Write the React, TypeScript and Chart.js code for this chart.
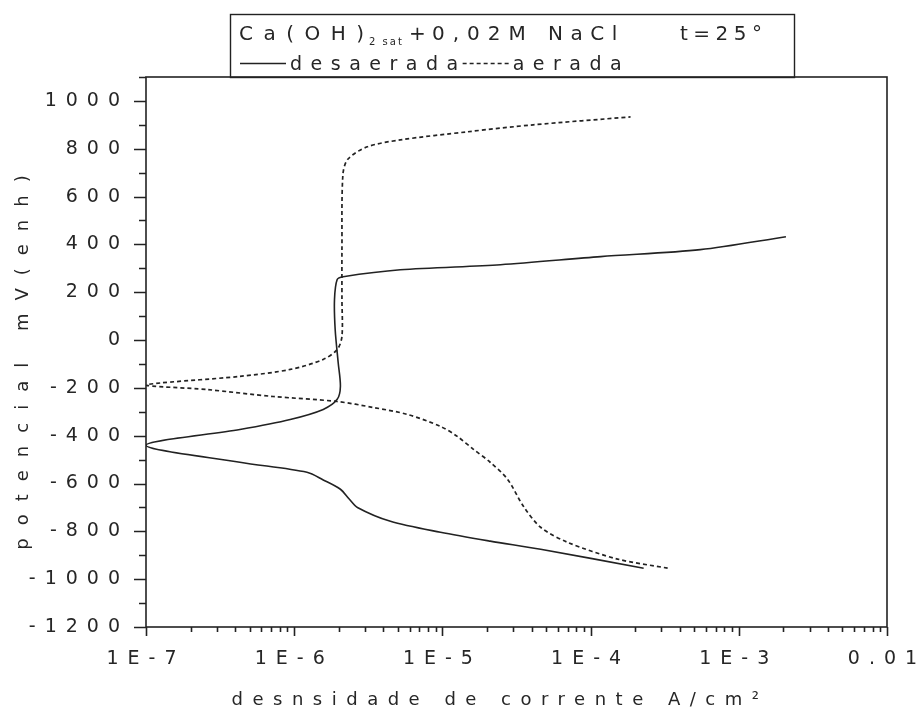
import React, { useEffect, useRef } from 'react';
import { Chart, registerables } from 'chart.js';

Chart.register(...registerables);

// ---- Data ----
// desaerada: solid curve, traced from the cathodic end, through the corrosion point, up the anodic branch
const desaeradaCurrent = [
  2.28e-4, 4.6e-5, 2.1e-5, 9.7e-6, 4.46e-6, 2.67e-6, 2.35e-6, 2.05e-6, 1.57e-6, 1.22e-6, 4.3e-7, 1e-7,
  4.3e-7, 9.4e-7, 1.57e-6, 1.95e-6, 2.05e-6, 1.98e-6, 1.89e-6, 1.87e-6, 1.95e-6, 2.14e-6,
  5.2e-6, 2.47e-5, 1.17e-4, 5.5e-4, 2.08e-3,
];
const desaeradaPotential = [
  -954, -875, -841, -804, -758, -700, -665, -624, -585, -553, -511, -440,
  -374, -332, -290, -248, -194, -94, 44, 169, 253, 265,
  294, 315, 349, 378, 432,
];

// aerada: dashed curve
const aeradaCurrent = [
  3.31e-4, 1.52e-4, 7.0e-5, 4.6e-5, 3.52e-5, 2.75e-5, 2.1e-5, 1.62e-5, 1.26e-5, 9.7e-6, 5.8e-6,
  3.42e-6, 1.95e-6, 7.2e-7, 2.58e-7, 1.0e-7, 4.3e-7, 9.4e-7, 1.57e-6, 1.95e-6, 2.1e-6,
  2.1e-6, 2.1e-6, 2.13e-6, 2.3e-6, 3.11e-6, 5.2e-6, 1.48e-5, 4.1e-5, 1.86e-4,
];
const aeradaPotential = [
  -954, -916, -846, -783, -695, -582, -511, -457, -403, -361, -311,
  -282, -257, -236, -207, -188, -152, -123, -81, -40, 15,
  169, 378, 690, 756, 808, 837, 871, 900, 933,
];

const xTickValues = [1e-7, 1e-6, 1e-5, 1e-4, 1e-3, 1e-2];
const xTickLabels = ['1E-7', '1E-6', '1E-5', '1E-4', '1E-3', '0.01'];
const xMinorMultipliers = [2, 3, 4, 5, 6, 7, 8, 9];

const yMin = -1200;
const yMax = 1100;
const yStep = 100;
const yLabelStep = 200;

const titleParts = ['Ca(OH)', '2 sat', '+', '0,02M', 'NaCl', 't=25°'];
const seriesNames = ['desaerada', 'aerada'];
const xTitle = 'desnsidade de corrente A/cm²';
const yTitle = 'potencial mV(enh)';

const INK = '#222222';
const TEXT = '#262626';
const FONT = '"DejaVu Sans", "Liberation Sans", Arial, sans-serif';

const toPoints = (xs: number[], ys: number[]) => xs.map((x, i) => ({ x, y: ys[i] }));

// layout of the title pieces: [x, font size, letter spacing, baseline offset]
const titleLayout: [number, number, number, number][] = [
  [239, 20, 10.5, 0],
  [369, 10, 2, 5],
  [409, 20, 0, 0],
  [432, 20, 8, 0],
  [548, 20, 7.5, 0],
  [680, 20, 5.5, 0],
];

const decorPlugin = {
  id: 'decor',
  beforeDraw(chart: any) {
    chart.ctx.letterSpacing = '9px';
  },
  afterDraw(chart: any) {
    const { ctx, chartArea, scales } = chart;
    const { left, right, top, bottom } = chartArea;
    const xs = scales.x;
    const ys = scales.y;
    ctx.save();
    ctx.letterSpacing = '0px';
    ctx.strokeStyle = INK;
    ctx.lineWidth = 1.6;
    // frame
    ctx.strokeRect(left, top, right - left, bottom - top);
    // y ticks
    ctx.beginPath();
    for (let v = yMin; v <= yMax; v += yStep) {
      const py = Math.round(ys.getPixelForValue(v)) + 0.5;
      const len = v % yLabelStep === 0 ? 12 : 7;
      ctx.moveTo(left - len, py);
      ctx.lineTo(left, py);
    }
    // x ticks
    xTickValues.forEach((dec, i) => {
      const px = Math.round(xs.getPixelForValue(dec)) + 0.5;
      ctx.moveTo(px, bottom);
      ctx.lineTo(px, bottom + 9);
      if (i < xTickValues.length - 1) {
        xMinorMultipliers.forEach((m) => {
          const mx = Math.round(xs.getPixelForValue(dec * m)) + 0.5;
          ctx.moveTo(mx, bottom);
          ctx.lineTo(mx, bottom + 5);
        });
      }
    });
    ctx.stroke();

    // axis titles
    ctx.fillStyle = TEXT;
    ctx.font = `18px ${FONT}`;
    ctx.letterSpacing = '9.5px';
    ctx.textAlign = 'center';
    ctx.textBaseline = 'middle';
    ctx.fillText(xTitle, 500, 700);
    ctx.save();
    ctx.translate(23, 356);
    ctx.rotate(-Math.PI / 2);
    ctx.letterSpacing = '13px';
    ctx.fillText(yTitle, 0, 0);
    ctx.restore();

    // legend / title box
    const bx = 230.5, by = 14.5, bw = 564, bh = 63;
    ctx.lineWidth = 1.4;
    ctx.strokeRect(bx, by, bw, bh);
    ctx.textAlign = 'left';
    ctx.textBaseline = 'alphabetic';
    const base1 = 40;
    titleParts.forEach((txt, i) => {
      const [tx, size, sp, off] = titleLayout[i];
      ctx.font = `${size}px ${FONT}`;
      ctx.letterSpacing = `${sp}px`;
      ctx.fillText(txt, tx, base1 + off);
    });

    // line 2: samples
    const base2 = 70;
    const ds = chart.data.datasets;
    let lx = 240;
    const sampleY = 63.5;
    ds.forEach((d: any, i: number) => {
      ctx.save();
      ctx.strokeStyle = d.borderColor;
      ctx.lineWidth = d.borderWidth;
      ctx.setLineDash(d.borderDash || []);
      ctx.beginPath();
      ctx.moveTo(lx, sampleY);
      ctx.lineTo(lx + 46, sampleY);
      ctx.stroke();
      ctx.restore();
      lx += 50;
      ctx.font = `19px ${FONT}`;
      ctx.letterSpacing = '8.5px';
      ctx.fillText(seriesNames[i], lx, base2);
      lx += ctx.measureText(seriesNames[i]).width - 4;
    });
    ctx.restore();
  },
};

export default function App() {
  const ref = useRef<HTMLCanvasElement | null>(null);
  useEffect(() => {
    if (!ref.current) return;
    const chart = new Chart(ref.current, {
      type: 'line',
      data: {
        datasets: [
          {
            label: seriesNames[0],
            data: toPoints(desaeradaCurrent, desaeradaPotential),
            borderColor: INK,
            borderWidth: 1.6,
            pointRadius: 0,
            tension: 0.3,
            fill: false,
          },
          {
            label: seriesNames[1],
            data: toPoints(aeradaCurrent, aeradaPotential),
            borderColor: INK,
            borderWidth: 1.7,
            borderDash: [4, 3],
            pointRadius: 0,
            tension: 0.3,
            fill: false,
          },
        ],
      },
      options: {
        animation: false,
        responsive: false,
        devicePixelRatio: 1,
        parsing: false as any,
        layout: { padding: { top: 77, right: 31, left: 0, bottom: 0 } },
        plugins: { legend: { display: false }, tooltip: { enabled: false } },
        scales: {
          x: {
            type: 'logarithmic',
            min: 1e-7,
            max: 1e-2,
            grid: { display: false, drawTicks: false },
            border: { display: false },
            afterBuildTicks: (s: any) => {
              s.ticks = xTickValues.map((v) => ({ value: v }));
            },
            afterFit: (s: any) => {
              s.height = 87;
              s.paddingLeft = 0;
              s.paddingRight = 0;
            },
            ticks: {
              autoSkip: false,
              maxRotation: 0,
              padding: 21,
              color: TEXT,
              font: { family: FONT, size: 19 },
              callback: (v: any) => {
                const idx = xTickValues.findIndex((t) => Math.abs(Math.log10(t) - Math.log10(v)) < 1e-6);
                return idx >= 0 ? xTickLabels[idx] : '';
              },
            },
          },
          y: {
            type: 'linear',
            min: yMin,
            max: yMax,
            grid: { display: false, drawTicks: false },
            border: { display: false },
            afterFit: (s: any) => {
              s.width = 146;
              s.paddingTop = 0;
              s.paddingBottom = 0;
            },
            ticks: {
              stepSize: yStep,
              autoSkip: false,
              padding: 17,
              color: TEXT,
              font: { family: FONT, size: 19 },
              callback: (v: any) => (v % yLabelStep === 0 && v <= 1000 ? String(v) : ''),
            },
          },
        },
      },
      plugins: [decorPlugin],
    });
    return () => chart.destroy();
  }, []);
  return (
    <div style={{ position: 'fixed', left: 0, top: 0, width: 918, height: 714, background: '#fff' }}>
      <canvas ref={ref} width={918} height={714} style={{ width: 918, height: 714, display: 'block' }} />
    </div>
  );
}
